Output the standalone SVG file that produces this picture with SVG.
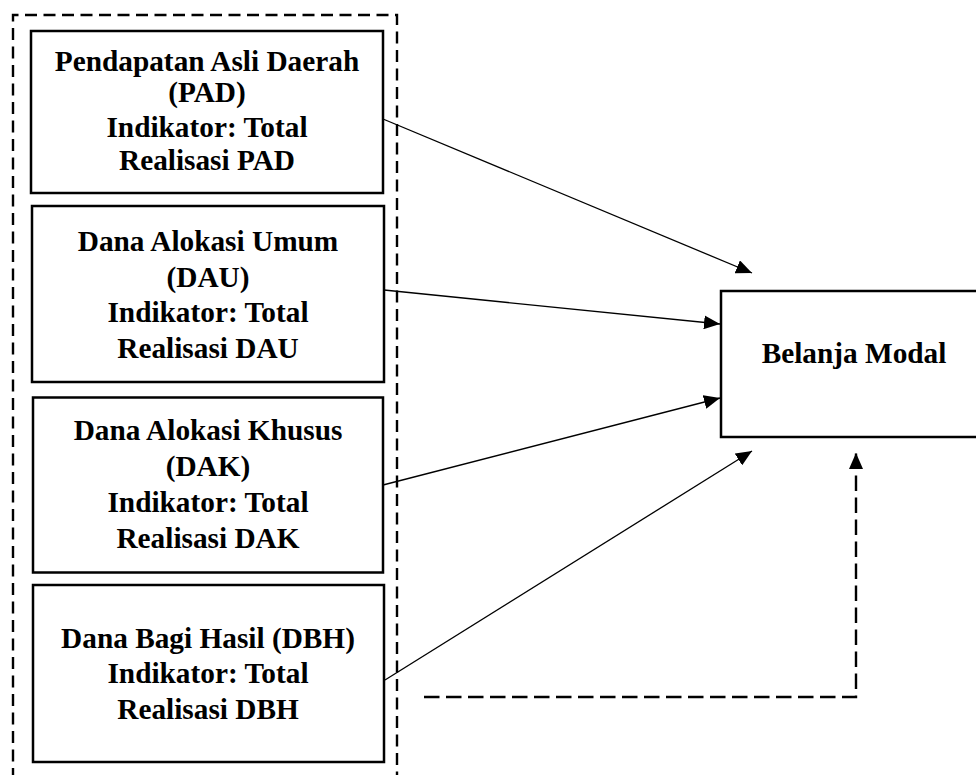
<svg xmlns="http://www.w3.org/2000/svg" width="976" height="775" viewBox="0 0 976 775">
<style>
.box{fill:#fff;stroke:#000;stroke-width:2.5}
.t{font-family:"Liberation Serif","Times New Roman",serif;font-weight:bold;font-size:29.3px;text-anchor:middle;fill:#000}
.c{fill:none;stroke:#000;stroke-width:1.3}
.dash{fill:none;stroke:#000;stroke-width:2.4;stroke-dasharray:15.5 6.5}
.frame{fill:none;stroke:#000;stroke-width:2.4;stroke-dasharray:12 6.5}
</style>
<defs>
<marker id="ah" markerUnits="userSpaceOnUse" markerWidth="17" markerHeight="14" refX="16" refY="7" orient="auto">
<path d="M0,0 L16,7 L0,14 z" fill="#000" stroke="none"/>
</marker>
</defs>
<rect width="976" height="775" fill="#fff"/>
<path class="frame" d="M13,780 V15 H397 V780"/>
<g id="pad">
<rect class="box" x="31" y="31" width="352" height="162"/>
<text class="t" x="207" y="71">Pendapatan Asli Daerah</text>
<text class="t" x="207" y="102">(PAD)</text>
<text class="t" x="207" y="136.5">Indikator: Total</text>
<text class="t" x="207" y="169.5">Realisasi PAD</text>
</g>
<g id="dau">
<rect class="box" x="32" y="206" width="352" height="176"/>
<text class="t" x="208" y="251">Dana Alokasi Umum</text>
<text class="t" x="208" y="286.5">(DAU)</text>
<text class="t" x="208" y="322">Indikator: Total</text>
<text class="t" x="208" y="358">Realisasi DAU</text>
</g>
<g id="dak">
<rect class="box" x="33" y="397.5" width="350" height="175"/>
<text class="t" x="208" y="440">Dana Alokasi Khusus</text>
<text class="t" x="208" y="475.5">(DAK)</text>
<text class="t" x="208" y="511.5">Indikator: Total</text>
<text class="t" x="208" y="547.5">Realisasi DAK</text>
</g>
<g id="dbh">
<rect class="box" x="33" y="585" width="351" height="177"/>
<text class="t" x="208" y="648">Dana Bagi Hasil (DBH)</text>
<text class="t" x="208" y="683">Indikator: Total</text>
<text class="t" x="208" y="719">Realisasi DBH</text>
</g>
<g id="belanja">
<rect class="box" x="721" y="291" width="270" height="146"/>
<text class="t" x="854" y="362.5">Belanja Modal</text>
</g>
<g id="connectors">
<path class="c" d="M383,119 L752,273" marker-end="url(#ah)"/>
<path class="c" d="M384,290 L720,324" marker-end="url(#ah)"/>
<path class="c" d="M383,485 L720,398" marker-end="url(#ah)"/>
<path class="c" d="M385,680 L752,451" marker-end="url(#ah)"/>
<path class="dash" d="M424,697 H856 V453" marker-end="url(#ah)"/>
</g>
</svg>
